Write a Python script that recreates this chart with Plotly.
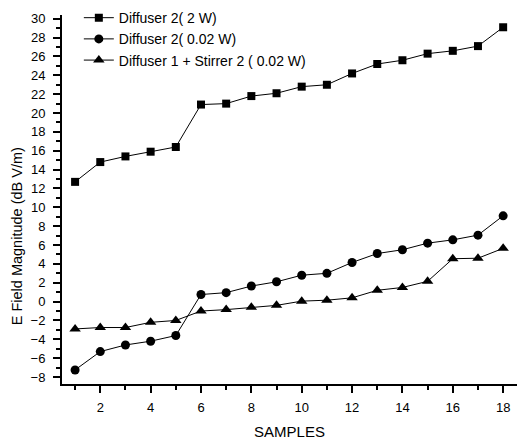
import plotly.graph_objects as go

samples = list(range(1, 19))
diff2_2w = [12.7, 14.8, 15.4, 15.9, 16.4, 20.9, 21.0, 21.8, 22.1, 22.8, 23.0, 24.2,
            25.2, 25.6, 26.3, 26.6, 27.1, 29.1]
diff2_002w = [-7.25, -5.3, -4.6, -4.2, -3.6, 0.75, 0.95, 1.65, 2.1, 2.8, 3.0, 4.15,
              5.1, 5.5, 6.2, 6.55, 7.05, 9.1]
diff1_stir2 = [-2.9, -2.75, -2.75, -2.2, -2.0, -1.0, -0.85, -0.6, -0.4, 0.05, 0.15, 0.4,
               1.2, 1.5, 2.15, 4.55, 4.6, 5.65]
names = ["Diffuser 2( 2 W)", "Diffuser 2( 0.02 W)", "Diffuser 1 + Stirrer 2 ( 0.02 W)"]
y_title = "E Field Magnitude (dB V/m)"
x_title = "SAMPLES"

fig = go.Figure()
for vals, name, sym, sz in [(diff2_2w, names[0], "square", 8),
                            (diff2_002w, names[1], "circle", 9),
                            (diff1_stir2, names[2], "triangle-up", 10)]:
    fig.add_trace(go.Scatter(x=samples, y=vals, name=name, mode="lines+markers",
                             line=dict(color="black", width=1),
                             marker=dict(symbol=sym, size=sz, color="black")))

font = "Liberation Sans, Arial, sans-serif"
fig.update_layout(
    width=522, height=440,
    margin=dict(l=62, r=5, t=15, b=56, autoexpand=False),
    paper_bgcolor="white", plot_bgcolor="white",
    font=dict(family=font, color="black", size=13),
    legend=dict(x=0.037, y=1.035, xanchor="left", yanchor="top",
                bgcolor="rgba(0,0,0,0)", font=dict(size=14), itemwidth=30),
    showlegend=True,
    annotations=[dict(text=y_title, textangle=-90, xref="paper", yref="paper",
                      x=-0.097, y=0.40, xanchor="center", yanchor="middle",
                      showarrow=False, font=dict(size=14.5))],
)
fig.update_xaxes(range=[0.48, 18.55], tickmode="linear", tick0=2, dtick=2,
                 automargin=False,
                 showgrid=False, zeroline=False, showline=True, linecolor="black",
                 linewidth=2, ticks="outside", ticklen=7, tickwidth=1.5, tickcolor="black",
                 minor=dict(ticks="outside", tick0=1, dtick=1, ticklen=4, tickcolor="black"),
                 tickfont=dict(size=13), ticklabelstandoff=3,
                 title=dict(text=x_title, font=dict(size=15), standoff=14))
fig.update_yaxes(range=[-8.74, 30.4], tickmode="linear", tick0=0, dtick=2,
                 automargin=False,
                 showgrid=False, zeroline=False, showline=True, linecolor="black",
                 linewidth=2, ticks="outside", ticklen=7, tickwidth=1.5, tickcolor="black",
                 minor=dict(ticks="outside", tick0=1, dtick=1, ticklen=4, tickcolor="black"),
                 tickfont=dict(size=13), ticklabelstandoff=5)
fig.write_html("out.html")
